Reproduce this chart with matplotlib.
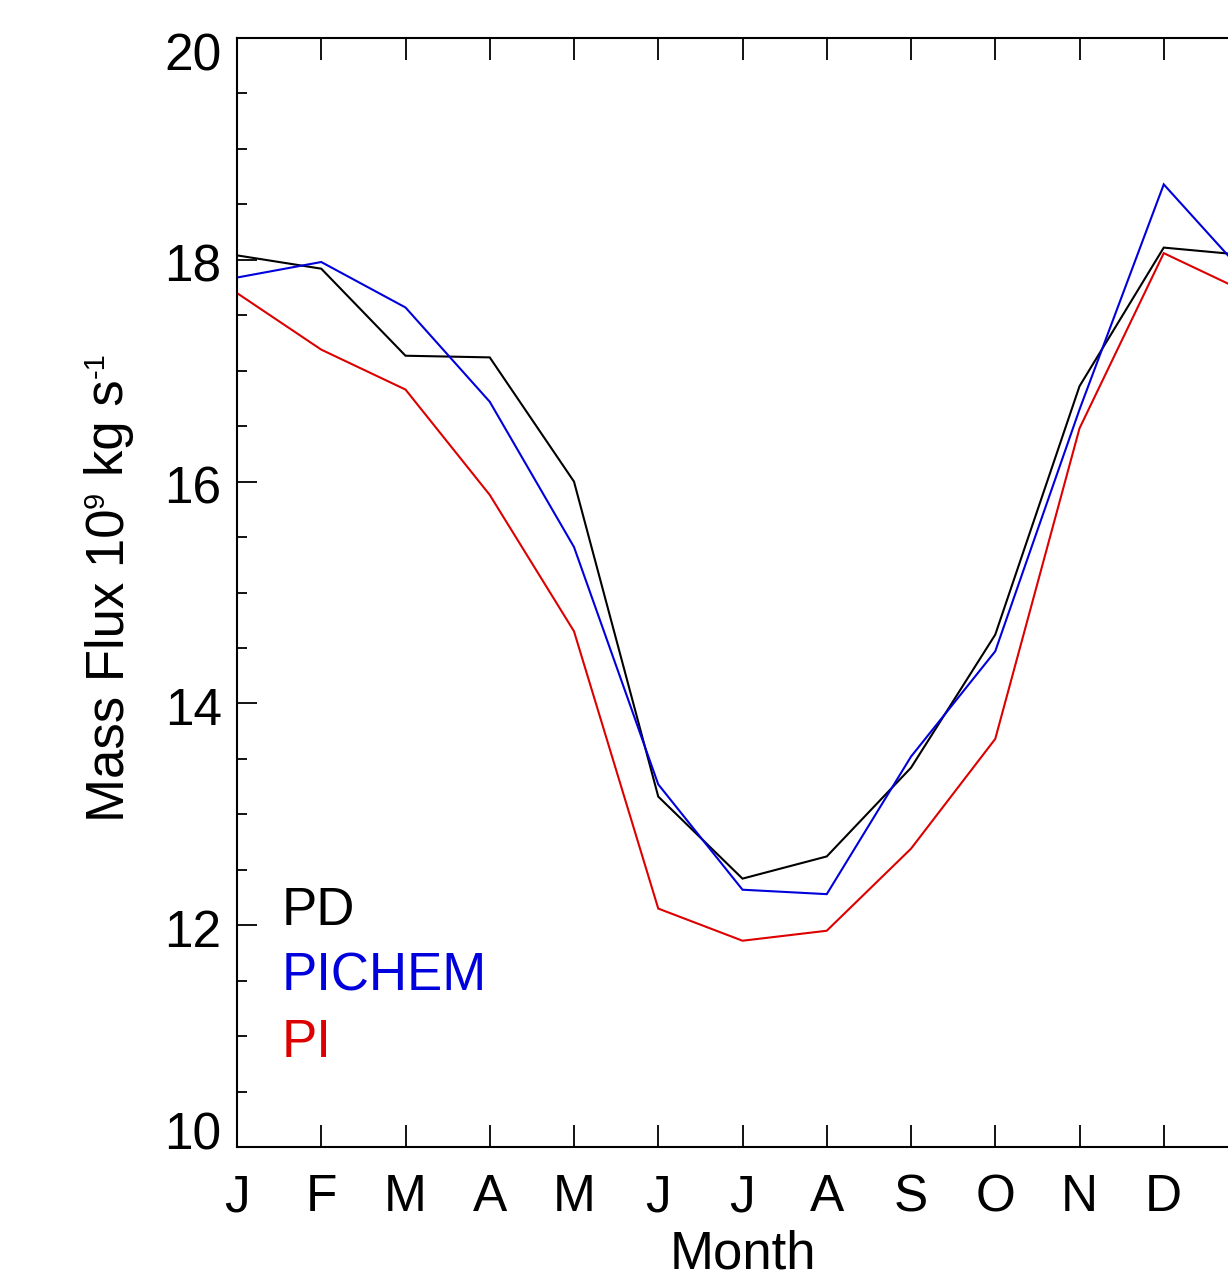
import matplotlib
matplotlib.use("Agg")
import matplotlib.pyplot as plt
from matplotlib.ticker import MultipleLocator
from matplotlib.transforms import ScaledTranslation

months = ["J", "F", "M", "A", "M", "J", "J", "A", "S", "O", "N", "D", "J"]
pd_flux = [18.04, 17.92, 17.135, 17.12, 16.00, 13.16, 12.42, 12.62, 13.42, 14.62, 16.86, 18.11, 18.04]
pichem_flux = [17.84, 17.98, 17.57, 16.72, 15.41, 13.27, 12.32, 12.28, 13.52, 14.47, 16.65, 18.68, 17.84]
pi_flux = [17.70, 17.19, 16.83, 15.88, 14.65, 12.15, 11.86, 11.95, 12.69, 13.68, 16.48, 18.06, 17.70]
series_names = ["PD", "PICHEM", "PI"]
series_colors = ["#000000", "#0000DC", "#DC0000"]
ylabel_parts = [("Mass Flux 10", False), ("9", True), ("kg s", False), ("-1", True)]

plt.rcParams["font.family"] = ["Liberation Sans", "DejaVu Sans"]

W, H = 1228, 1275
DPI = 100
fig = plt.figure(figsize=(W / DPI, H / DPI), dpi=DPI)
left_px, right_px, top_px, bot_px = 237, 1248, 38, 1147
ax = fig.add_axes([left_px / W, 1 - bot_px / H, (right_px - left_px) / W, (bot_px - top_px) / H])

x = list(range(len(months)))
for vals, name, col in zip([pd_flux, pichem_flux, pi_flux], series_names, series_colors):
    ax.plot(x, vals, color=col, lw=1.5, solid_joinstyle="miter")

ax.set_xlim(0, 12)
ax.set_ylim(10, 20)
ax.set_xticks(x[:12])
ax.set_xticklabels(months[:12])
ax.yaxis.set_major_locator(MultipleLocator(2))
ax.yaxis.set_minor_locator(MultipleLocator(0.5))

for s in ax.spines.values():
    s.set_linewidth(1.5)

ax.tick_params(axis="x", which="major", direction="in", length=15.8, width=1.3,
               top=True, bottom=True, labelsize=37, pad=19)
ax.tick_params(axis="y", which="major", direction="in", length=14.4, width=1.3,
               left=True, right=True, labelsize=37, pad=11)
ax.tick_params(axis="y", which="minor", direction="in", length=7.2, width=1.3,
               left=True, right=True)

# IDL keeps the end labels inside the axis range
fig.canvas.draw()
for tick in ax.yaxis.get_major_ticks():
    v = tick.get_loc()
    lab = tick.label1
    if abs(v - 20) < 1e-6:
        lab.set_transform(lab.get_transform() + ScaledTranslation(0, -13 / DPI, fig.dpi_scale_trans))
    elif abs(v - 10) < 1e-6:
        lab.set_transform(lab.get_transform() + ScaledTranslation(0, 17 / DPI, fig.dpi_scale_trans))
    else:
        lab.set_transform(lab.get_transform() + ScaledTranslation(0, -3 / DPI, fig.dpi_scale_trans))

ax.set_xlabel("Month", fontsize=38, labelpad=5)

# y label composed of pieces (IDL-style small superscripts), rotated 90 degrees
renderer = fig.canvas.get_renderer()
main_fs, sup_fs = 38, 21
base_x_px = 123.0
cur_y_px = 822.0   # from top
sup_raise_px = 19.0
gap_px = 0.28 * main_fs * DPI / 72
for i, (txt, sup) in enumerate(ylabel_parts):
    fs = sup_fs if sup else main_fs
    xx = base_x_px - (sup_raise_px if sup else 0)
    if i > 0 and not sup:
        cur_y_px -= gap_px
    t = fig.text(xx / W, 1 - cur_y_px / H, txt, fontsize=fs, rotation=90,
                 rotation_mode="anchor", ha="left", va="baseline")
    bb = t.get_window_extent(renderer)
    cur_y_px -= bb.height + 1

legend_y = [0.2002, 0.1407, 0.0812]
for name, col, yy in zip(series_names, series_colors, legend_y):
    ax.text(0.0445, yy, name, color=col, fontsize=38, transform=ax.transAxes,
            ha="left", va="baseline")

fig.savefig("out.png", dpi=DPI)
